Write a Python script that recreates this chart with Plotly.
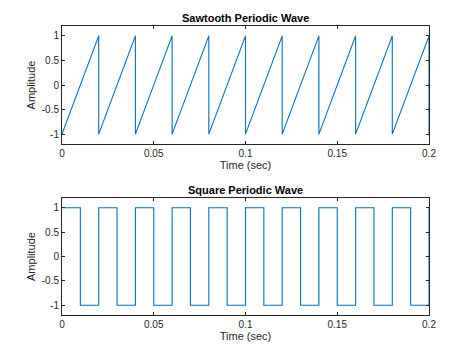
import plotly.graph_objects as go
from plotly.subplots import make_subplots

# Sawtooth wave vertices (50 Hz, amplitude -1..1)
saw_t = [0, 0.02, 0.02, 0.04, 0.04, 0.06, 0.06, 0.08, 0.08, 0.10, 0.10,
         0.12, 0.12, 0.14, 0.14, 0.16, 0.16, 0.18, 0.18, 0.20, 0.20]
saw_y = [-1, 1, -1, 1, -1, 1, -1, 1, -1, 1, -1,
         1, -1, 1, -1, 1, -1, 1, -1, 1, -1]

# Square wave vertices (50 Hz, amplitude -1..1)
sq_t = [0, 0.01, 0.01, 0.02, 0.02, 0.03, 0.03, 0.04, 0.04, 0.05, 0.05,
        0.06, 0.06, 0.07, 0.07, 0.08, 0.08, 0.09, 0.09, 0.10, 0.10,
        0.11, 0.11, 0.12, 0.12, 0.13, 0.13, 0.14, 0.14, 0.15, 0.15,
        0.16, 0.16, 0.17, 0.17, 0.18, 0.18, 0.19, 0.19, 0.20, 0.20]
sq_y = [1, 1, -1, -1, 1, 1, -1, -1, 1, 1, -1,
        -1, 1, 1, -1, -1, 1, 1, -1, -1, 1,
        1, -1, -1, 1, 1, -1, -1, 1, 1, -1,
        -1, 1, 1, -1, -1, 1, 1, -1, -1, 1]

x_ticks = [0, 0.05, 0.1, 0.15, 0.2]
x_tick_labels = ["0", "0.05", "0.1", "0.15", "0.2"]
y_ticks = [-1, -0.5, 0, 0.5, 1]
y_tick_labels = ["-1", "-0.5", "0", "0.5", "1"]

titles = ["Sawtooth Periodic Wave", "Square Periodic Wave"]

line_color = "#0072BD"
axis_color = "#262626"
font_family = "Liberation Sans, Arial, sans-serif"

fig = make_subplots(rows=2, cols=1)
fig.add_trace(go.Scatter(x=saw_t, y=saw_y, mode="lines",
                         line=dict(color=line_color, width=1.1)), row=1, col=1)
fig.add_trace(go.Scatter(x=sq_t, y=sq_y, mode="lines",
                         line=dict(color=line_color, width=1.1)), row=2, col=1)

axis_common = dict(showline=True, linecolor=axis_color, linewidth=1,
                   mirror="ticks", ticks="inside", ticklen=3, tickcolor=axis_color,
                   showgrid=False, zeroline=False, automargin=False,
                   tickfont=dict(size=10, color=axis_color, family=font_family))

fig.update_xaxes(**axis_common, range=[0, 0.2], tickvals=x_ticks,
                 ticktext=x_tick_labels,
                 title=dict(text="Time (sec)", standoff=2,
                            font=dict(size=11, color=axis_color, family=font_family)))
fig.update_yaxes(**axis_common, range=[-1.2, 1.2], tickvals=y_ticks,
                 ticktext=y_tick_labels,
                 title=dict(text="Amplitude", standoff=3,
                            font=dict(size=11, color=axis_color, family=font_family)))

fig.update_layout(
    width=474, height=355,
    margin=dict(l=62, r=45, t=26, b=40),
    paper_bgcolor="white", plot_bgcolor="white",
    showlegend=False,
    font=dict(family=font_family, color=axis_color),
)
fig.update_layout(
    xaxis=dict(domain=[0, 1]), xaxis2=dict(domain=[0, 1]),
    yaxis=dict(domain=[0.5917, 1.0]), yaxis2=dict(domain=[0.0, 0.4048]),
)

fig.add_annotation(text="<b>" + titles[0] + "</b>", xref="paper", yref="paper",
                   x=0.5, y=1.0, yanchor="bottom", yshift=0, showarrow=False,
                   font=dict(size=11, color="black", family=font_family))
fig.add_annotation(text="<b>" + titles[1] + "</b>", xref="paper", yref="paper",
                   x=0.5, y=0.4048, yanchor="bottom", yshift=0, showarrow=False,
                   font=dict(size=11, color="black", family=font_family))

fig.write_html("out.html",
               config={"displayModeBar": False},
               post_script="document.body.style.margin='0px';document.body.style.padding='0px';")
